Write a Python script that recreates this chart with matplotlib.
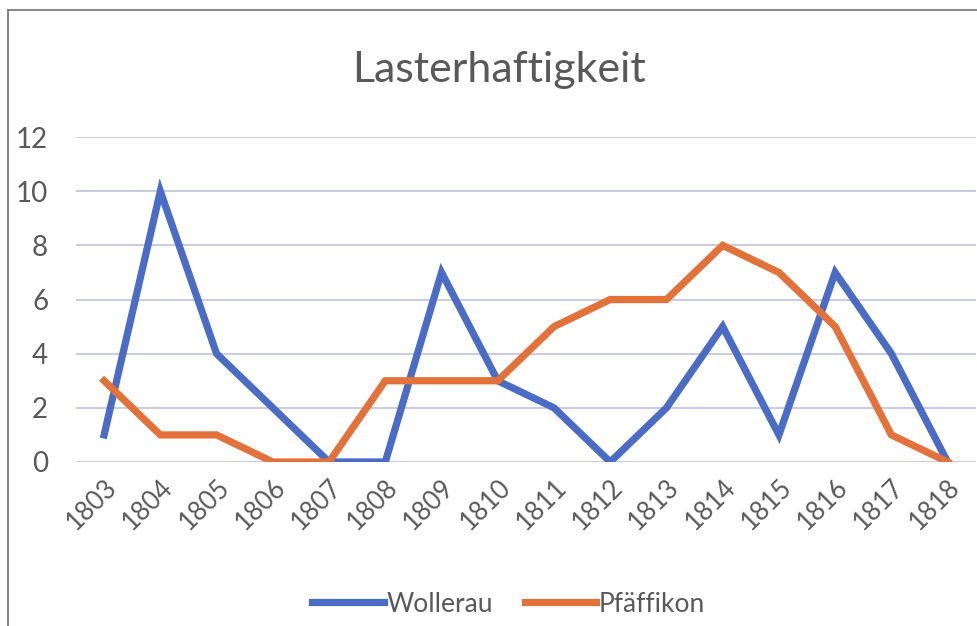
import numpy as np
import matplotlib.pyplot as plt
from matplotlib.lines import Line2D

plt.rcParams['font.family'] = ['Lato', 'DejaVu Sans']

years = ['1803', '1804', '1805', '1806', '1807', '1808', '1809', '1810',
         '1811', '1812', '1813', '1814', '1815', '1816', '1817', '1818']
wollerau = [1, 10, 4, 2, 0, 0, 7, 3, 2, 0, 2, 5, 1, 7, 4, 0]
pfaeffikon = [3, 1, 1, 0, 0, 3, 3, 3, 5, 6, 6, 8, 7, 5, 1, 0]

blue = '#4a6cc4'
orange = '#e3713a'
grey = '#595959'

fig = plt.figure(figsize=(9.78, 6.26), dpi=100)

# chart frame (left and top edges visible in the scan)
fig.add_artist(Line2D([0.008, 0.008], [0, 0.984], color='#707070', lw=1.2))
fig.add_artist(Line2D([0.008, 1.0], [0.984, 0.984], color='#707070', lw=1.2))

ax = fig.add_axes([0.0777, 0.262, 0.920, 0.519])
x = np.arange(len(years))
ax.plot(x, wollerau, color=blue, lw=5.2, solid_joinstyle='miter', label='Wollerau')
ax.plot(x, pfaeffikon, color=orange, lw=5.2, solid_joinstyle='miter', label='Pfäffikon')

ax.set_xlim(-0.5, len(years) - 0.5)
ax.set_ylim(0, 12)
ax.set_yticks(range(0, 13, 2))
ax.set_xticks(x)
ax.set_xticklabels(years, rotation=45, ha='right', rotation_mode='anchor')
ax.tick_params(axis='both', length=0, colors=grey)
ax.tick_params(axis='y', pad=20, labelsize=20)
ax.tick_params(axis='x', pad=9, labelsize=18.5)
ax.grid(axis='y', color='#c6c6e2', lw=1.3)
ax.set_axisbelow(True)
for s in ax.spines.values():
    s.set_visible(False)

fig.text(0.51, 0.888, 'Lasterhaftigkeit', ha='center', va='center',
         fontsize=31, color=grey)

fig.legend(loc='center', bbox_to_anchor=(0.52, 0.035), ncol=2, frameon=False,
           fontsize=19, handlelength=2.7, handletextpad=0.1, columnspacing=1.2,
           labelcolor=grey)

fig.savefig('out.png', dpi=100)
